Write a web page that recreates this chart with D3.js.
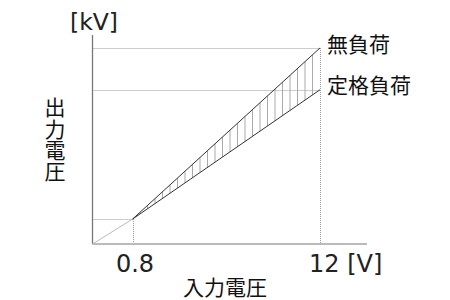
<!DOCTYPE html>
<html>
<head>
<meta charset="utf-8">
<script src="https://cdn.jsdelivr.net/npm/d3@7"></script>
<style>
  body { margin: 0; background: #fff; }
  svg text { font-family: "Noto Sans CJK JP", "Noto Sans", sans-serif; fill: #111; }
  svg text.num { font-family: "DejaVu Sans", sans-serif; fill: #222; }
</style>
</head>
<body>
<svg width="450" height="300"></svg>
<script>
'use strict';

// 入力電圧 [V]
var inputV = [0.8, 12];
// 出力電圧 [kV] (読み取り値)
var noLoadV = [1.0, 7.88];
var ratedV = [1.0, 6.2];
var seriesNames = ['無負荷', '定格負荷'];
var xTickLabels = ['0.8', '12 [V]'];
var yUnit = '[kV]';
var xTitle = '入力電圧';
var yTitle = '出力電圧';

var svg = d3.select('svg');

var x = d3.scaleLinear().domain([0, 0.8, 12]).range([92.5, 132.5, 320]);
var y = d3.scaleLinear().domain([0, 8.4]).range([244, 35]);

var pts = function (vals) {
    return inputV.map(function (v, i) { return [x(v), y(vals[i])]; });
};
var line = d3.line();

// 補助線 (点線)
var dots = svg.append('g')
    .attr('stroke', '#999')
    .attr('stroke-width', 1)
    .attr('stroke-dasharray', '1,1')
    .attr('fill', 'none');

[noLoadV[1], ratedV[1], noLoadV[0]].forEach(function (v, i) {
    var xe = i < 2 ? x(inputV[1]) : x(inputV[0]);
    dots.append('line')
        .attr('x1', x(0)).attr('x2', xe)
        .attr('y1', Math.round(y(v)) + 0.5).attr('y2', Math.round(y(v)) + 0.5);
});
inputV.forEach(function (v, i) {
    var top = i === 0 ? y(noLoadV[0]) : y(noLoadV[1]);
    dots.append('line')
        .attr('x1', Math.round(x(v)) + 0.5).attr('x2', Math.round(x(v)) + 0.5)
        .attr('y1', top).attr('y2', y(0));
});

// 原点からの線
svg.append('line')
    .attr('x1', x(0)).attr('y1', y(0))
    .attr('x2', x(inputV[0])).attr('y2', y(noLoadV[0]))
    .attr('stroke', '#bbb')
    .attr('stroke-width', 1);

// 縦線ハッチング
var a = pts(noLoadV), b = pts(ratedV);
var n = 25;
svg.append('g')
    .selectAll('line')
    .data(d3.range(1, n))
    .enter()
    .append('line')
    .attr('x1', function (k) { return a[0][0] + (a[1][0] - a[0][0]) * k / n; })
    .attr('x2', function (k) { return a[0][0] + (a[1][0] - a[0][0]) * k / n; })
    .attr('y1', function (k) { return a[0][1] + (a[1][1] - a[0][1]) * k / n; })
    .attr('y2', function (k) { return b[0][1] + (b[1][1] - b[0][1]) * k / n; })
    .attr('stroke', '#aaa')
    .attr('stroke-width', 1);

// 無負荷 / 定格負荷 の線
svg.append('g')
    .selectAll('path')
    .data([noLoadV, ratedV])
    .enter()
    .append('path')
    .attr('d', function (d) { return line(pts(d)); })
    .attr('fill', 'none')
    .attr('stroke', '#333')
    .attr('stroke-width', 1);

// 軸
svg.append('line')
    .attr('x1', x(0)).attr('x2', x(0))
    .attr('y1', y(8.4)).attr('y2', y(0))
    .attr('stroke', '#777')
    .attr('stroke-width', 1.3);
svg.append('line')
    .attr('x1', x(0)).attr('x2', x(12) + 47)
    .attr('y1', y(0)).attr('y2', y(0))
    .attr('stroke', '#bbb')
    .attr('stroke-width', 2);

// ラベル
svg.append('g')
    .selectAll('text')
    .data(seriesNames)
    .enter()
    .append('text')
    .text(function (d) { return d; })
    .attr('x', 327)
    .attr('y', function (d, i) { return [52, 92.5][i]; })
    .attr('font-size', 21);

svg.append('g')
    .selectAll('text')
    .data(xTickLabels)
    .enter()
    .append('text')
    .attr('class', 'num')
    .text(function (d) { return d; })
    .attr('x', function (d, i) { return i === 0 ? x(inputV[0]) + 2.5 : x(inputV[1]) - 11; })
    .attr('y', 272)
    .attr('text-anchor', function (d, i) { return i === 0 ? 'middle' : 'start'; })
    .attr('font-size', 24);

svg.append('text')
    .attr('class', 'num')
    .text(yUnit)
    .attr('x', 70)
    .attr('y', 30)
    .attr('font-size', 23.5);

svg.append('text')
    .text(xTitle)
    .attr('x', 225)
    .attr('y', 295)
    .attr('text-anchor', 'middle')
    .attr('font-size', 21);

// 縦書き
svg.append('text')
    .text(yTitle)
    .attr('x', 55)
    .attr('y', 97)
    .attr('writing-mode', 'vertical-rl')
    .attr('text-orientation', 'upright')
    .attr('letter-spacing', 0.3)
    .attr('font-size', 21);
</script>
</body>
</html>
